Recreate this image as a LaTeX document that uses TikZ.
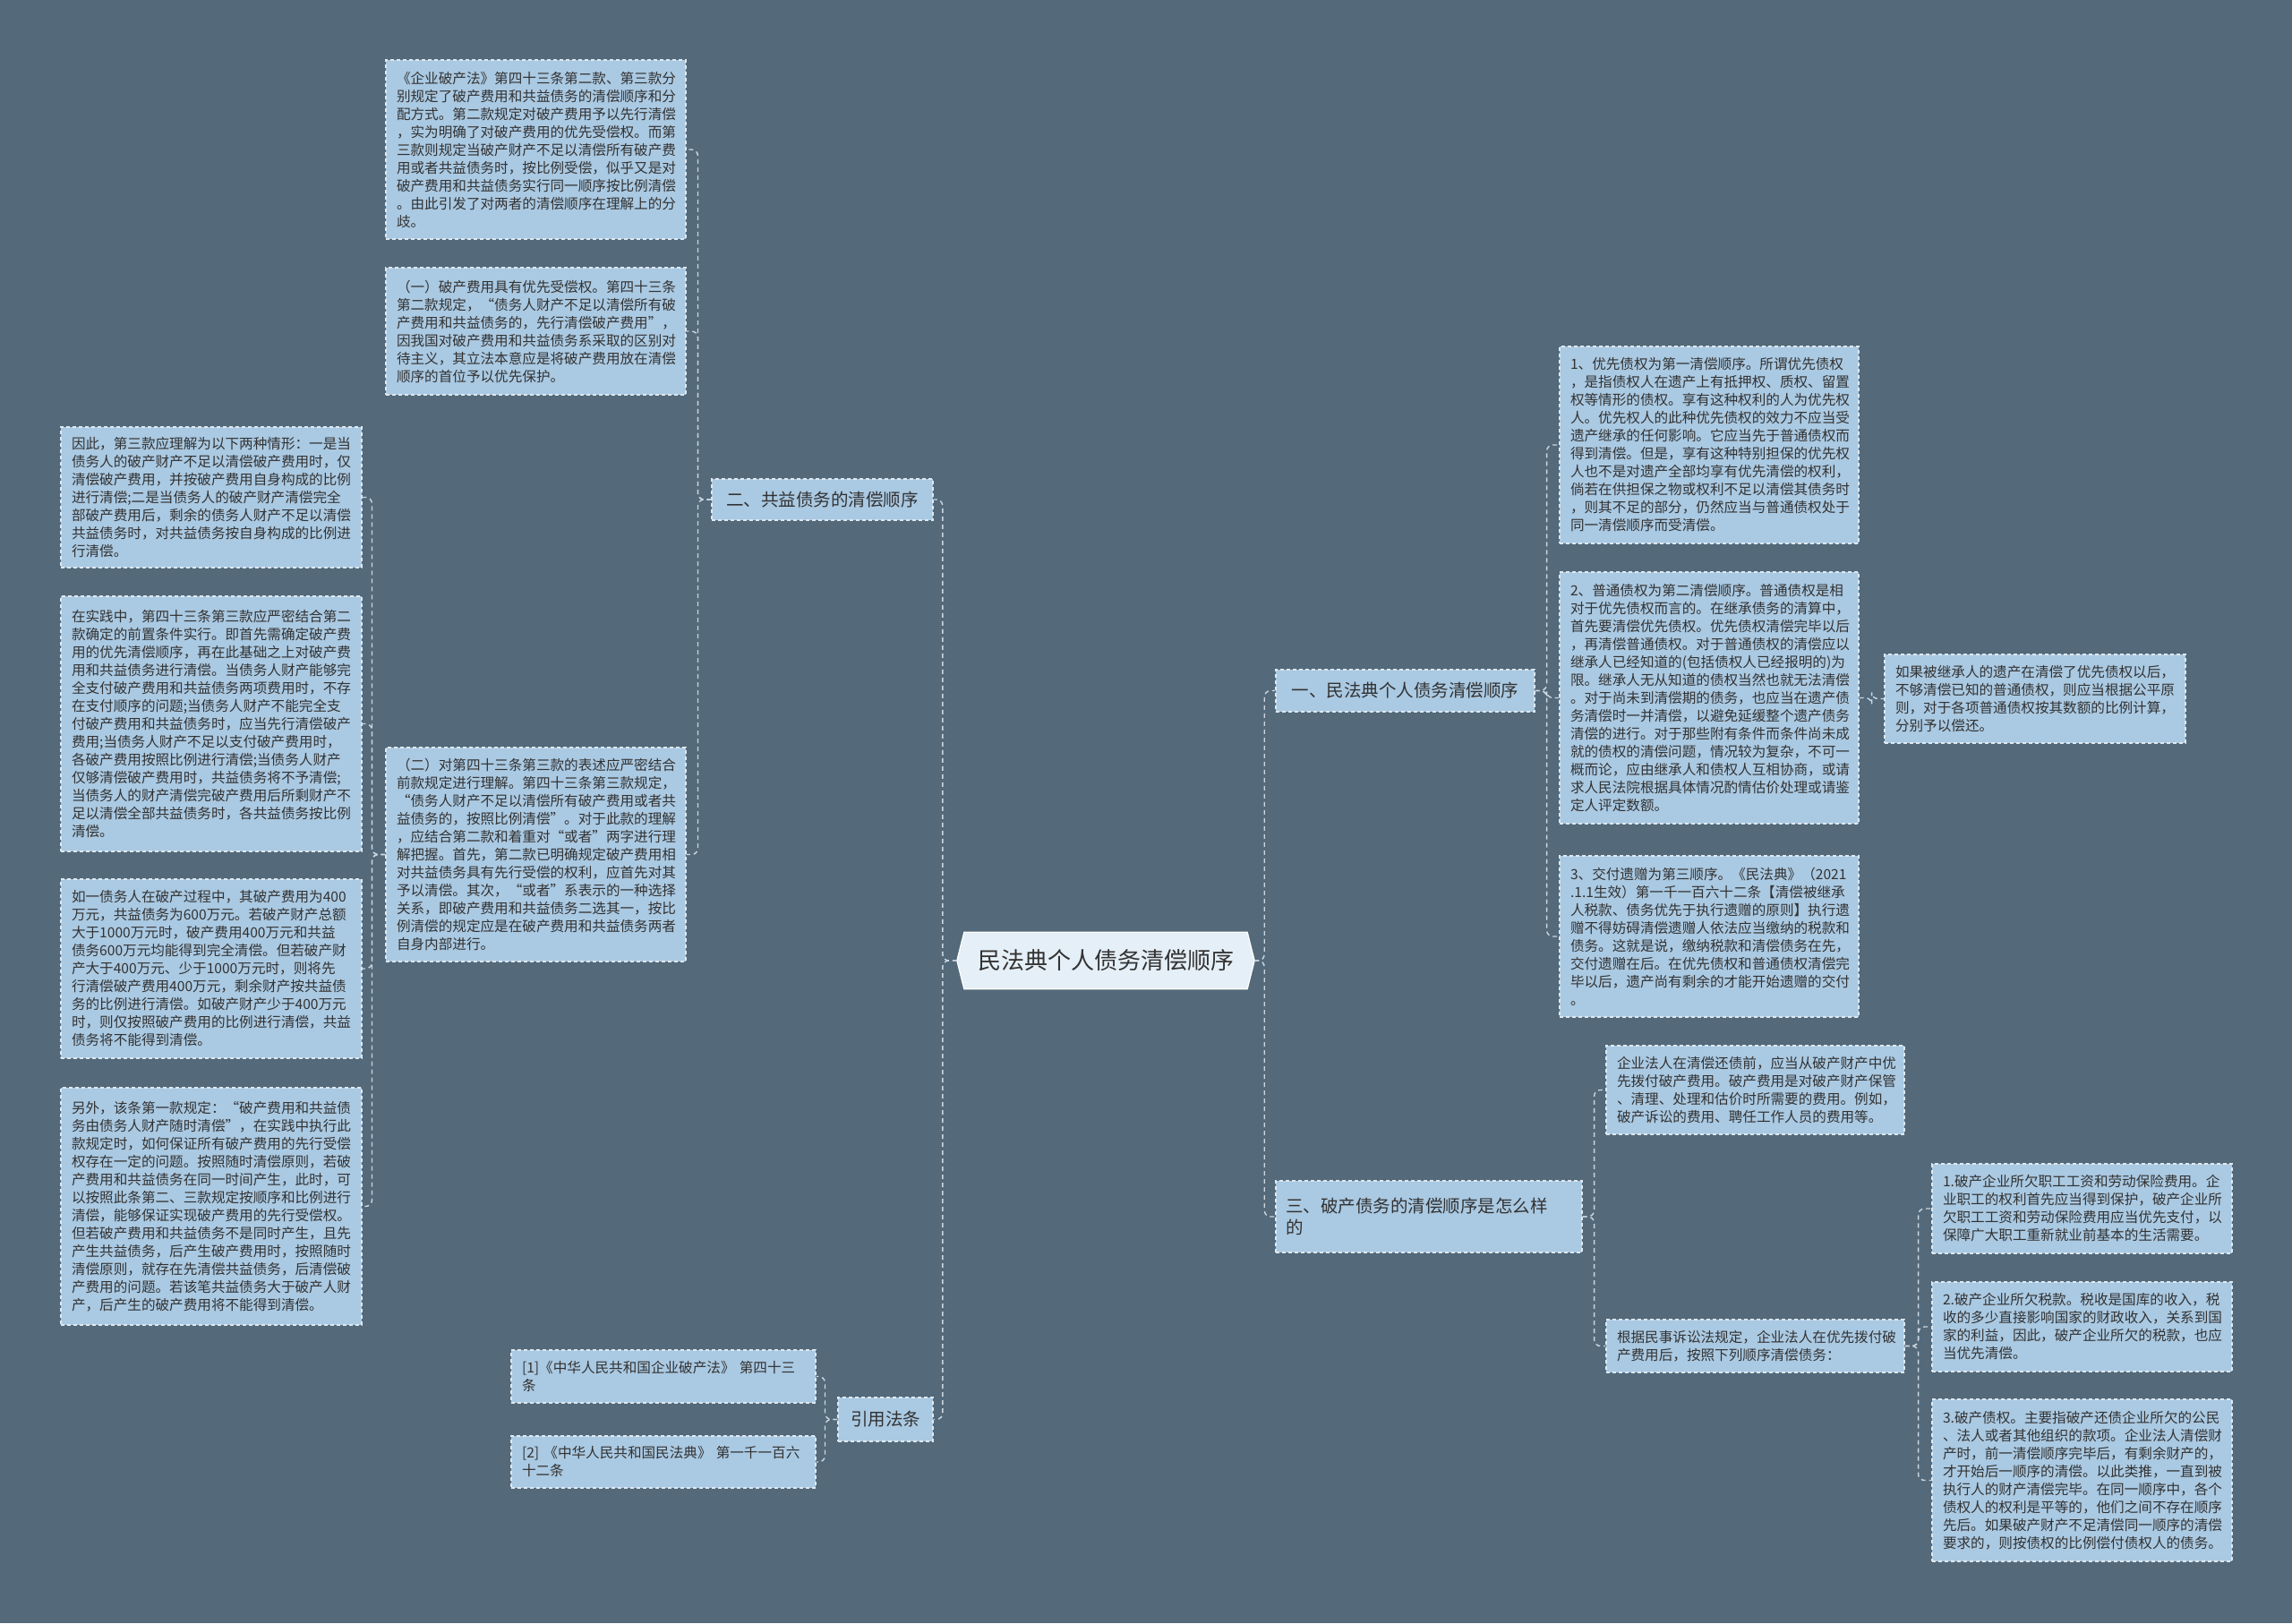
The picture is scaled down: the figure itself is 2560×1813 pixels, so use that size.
\documentclass[tikz,border=0pt]{standalone}
\usepackage{fontspec}
\setmainfont{Noto Sans CJK SC}
\usetikzlibrary{calc}
\definecolor{bgcol}{RGB}{84,106,122}
\definecolor{boxfill}{RGB}{170,201,226}
\definecolor{bordercol}{RGB}{222,232,241}
\definecolor{textcol}{RGB}{50,50,50}
\definecolor{centerfill}{RGB}{229,239,247}
\definecolor{conncol}{RGB}{205,215,225}
\pgfdeclarelayer{back}
\pgfsetlayers{back,main}
\tikzset{
  leaf/.style={draw=bordercol, dash pattern=on 4pt off 3pt, line width=1.1pt, fill=boxfill,
    text=textcol, align=left, inner sep=0pt, font=\fontsize{15.6pt}{20pt}\selectfont},
  lvlone/.style={draw=bordercol, dash pattern=on 4pt off 3pt, line width=1.1pt, fill=boxfill,
    text=textcol, align=left, inner sep=0pt, font=\fontsize{19.5pt}{24pt}\selectfont},
  centernode/.style={text=textcol, inner sep=0pt, minimum width=332pt, minimum height=63pt,
    font=\fontsize{26pt}{30pt}\selectfont},
  conn/.style={draw=conncol, dash pattern=on 5pt off 4pt, line width=1.4pt, rounded corners=7pt}
}
\begin{document}
\begin{tikzpicture}[x=1pt,y=-1pt]
\begin{pgfonlayer}{back}
\fill[bgcol] (0,0) rectangle (2560,1813);
\end{pgfonlayer}
\useasboundingbox (0,0) rectangle (2560,1813);

% center
\node[centernode] (C) at (1235,1073) {民法典个人债务清偿顺序};
\begin{pgfonlayer}{back}
\filldraw[fill=centerfill, draw=white, line width=1.2pt]
  ([xshift=8pt]C.north west) -- (C.west) -- ([xshift=8pt]C.south west)
  -- ([xshift=-8pt]C.south east) -- (C.east) -- ([xshift=-8pt]C.north east) -- cycle;
\end{pgfonlayer}

% level one
\node[lvlone, minimum width=247pt, minimum height=46pt] (N2) at (918.5,558) {二、共益债务的清偿顺序};
\node[lvlone, minimum width=289pt, minimum height=47pt] (N1) at (1569.5,771.5) {一、民法典个人债务清偿顺序};
\node[lvlone, minimum width=342pt, minimum height=80pt, text width=320pt] (N3) at (1596,1359) {三、破产债务的清偿顺序是怎么样\\的};
\node[lvlone, minimum width=106pt, minimum height=49pt] (NR) at (989,1585.5) {引用法条};

% branch 二
\node[leaf, minimum width=335pt, minimum height=200pt, text width=311pt] (A) at (598.5,167) {《企业破产法》第四十三条第二款、第三款分\\别规定了破产费用和共益债务的清偿顺序和分\\配方式。第二款规定对破产费用予以先行清偿\\，实为明确了对破产费用的优先受偿权。而第\\三款则规定当破产财产不足以清偿所有破产费\\用或者共益债务时，按比例受偿，似乎又是对\\破产费用和共益债务实行同一顺序按比例清偿\\。由此引发了对两者的清偿顺序在理解上的分\\歧。};
\node[leaf, minimum width=335pt, minimum height=142pt, text width=311pt] (B) at (598.5,370) {（一）破产费用具有优先受偿权。第四十三条\\第二款规定，“债务人财产不足以清偿所有破\\产费用和共益债务的，先行清偿破产费用”，\\因我国对破产费用和共益债务系采取的区别对\\待主义，其立法本意应是将破产费用放在清偿\\顺序的首位予以优先保护。};
\node[leaf, minimum width=335pt, minimum height=239pt, text width=311pt] (G) at (598.5,954.5) {（二）对第四十三条第三款的表述应严密结合\\前款规定进行理解。第四十三条第三款规定，\\“债务人财产不足以清偿所有破产费用或者共\\益债务的，按照比例清偿”。对于此款的理解\\，应结合第二款和着重对“或者”两字进行理\\解把握。首先，第二款已明确规定破产费用相\\对共益债务具有先行受偿的权利，应首先对其\\予以清偿。其次，“或者”系表示的一种选择\\关系，即破产费用和共益债务二选其一，按比\\例清偿的规定应是在破产费用和共益债务两者\\自身内部进行。};

% children of (二)
\node[leaf, minimum width=336pt, minimum height=157pt, text width=312pt] (LC) at (236,555.5) {因此，第三款应理解为以下两种情形：一是当\\债务人的破产财产不足以清偿破产费用时，仅\\清偿破产费用，并按破产费用自身构成的比例\\进行清偿;二是当债务人的破产财产清偿完全\\部破产费用后，剩余的债务人财产不足以清偿\\共益债务时，对共益债务按自身构成的比例进\\行清偿。};
\node[leaf, minimum width=336pt, minimum height=285pt, text width=312pt] (LD) at (236,808.5) {在实践中，第四十三条第三款应严密结合第二\\款确定的前置条件实行。即首先需确定破产费\\用的优先清偿顺序，再在此基础之上对破产费\\用和共益债务进行清偿。当债务人财产能够完\\全支付破产费用和共益债务两项费用时，不存\\在支付顺序的问题;当债务人财产不能完全支\\付破产费用和共益债务时，应当先行清偿破产\\费用;当债务人财产不足以支付破产费用时，\\各破产费用按照比例进行清偿;当债务人财产\\仅够清偿破产费用时，共益债务将不予清偿;\\当债务人的财产清偿完破产费用后所剩财产不\\足以清偿全部共益债务时，各共益债务按比例\\清偿。};
\node[leaf, minimum width=336pt, minimum height=200pt, text width=312pt] (LE) at (236,1082) {如一债务人在破产过程中，其破产费用为400\\万元，共益债务为600万元。若破产财产总额\\大于1000万元时，破产费用400万元和共益\\债务600万元均能得到完全清偿。但若破产财\\产大于400万元、少于1000万元时，则将先\\行清偿破产费用400万元，剩余财产按共益债\\务的比例进行清偿。如破产财产少于400万元\\时，则仅按照破产费用的比例进行清偿，共益\\债务将不能得到清偿。};
\node[leaf, minimum width=336pt, minimum height=265pt, text width=312pt] (LF) at (236,1347.5) {另外，该条第一款规定：“破产费用和共益债\\务由债务人财产随时清偿”，在实践中执行此\\款规定时，如何保证所有破产费用的先行受偿\\权存在一定的问题。按照随时清偿原则，若破\\产费用和共益债务在同一时间产生，此时，可\\以按照此条第二、三款规定按顺序和比例进行\\清偿，能够保证实现破产费用的先行受偿权。\\但若破产费用和共益债务不是同时产生，且先\\产生共益债务，后产生破产费用时，按照随时\\清偿原则，就存在先清偿共益债务，后清偿破\\产费用的问题。若该笔共益债务大于破产人财\\产，后产生的破产费用将不能得到清偿。};

% branch 一
\node[leaf, minimum width=334pt, minimum height=220pt, text width=310pt] (H) at (1909,497) {1、优先债权为第一清偿顺序。所谓优先债权\\，是指债权人在遗产上有抵押权、质权、留置\\权等情形的债权。享有这种权利的人为优先权\\人。优先权人的此种优先债权的效力不应当受\\遗产继承的任何影响。它应当先于普通债权而\\得到清偿。但是，享有这种特别担保的优先权\\人也不是对遗产全部均享有优先清偿的权利，\\倘若在供担保之物或权利不足以清偿其债务时\\，则其不足的部分，仍然应当与普通债权处于\\同一清偿顺序而受清偿。};
\node[leaf, minimum width=334pt, minimum height=281pt, text width=310pt] (I) at (1909,779.5) {2、普通债权为第二清偿顺序。普通债权是相\\对于优先债权而言的。在继承债务的清算中，\\首先要清偿优先债权。优先债权清偿完毕以后\\，再清偿普通债权。对于普通债权的清偿应以\\继承人已经知道的(包括债权人已经报明的)为\\限。继承人无从知道的债权当然也就无法清偿\\。对于尚未到清偿期的债务，也应当在遗产债\\务清偿时一并清偿，以避免延缓整个遗产债务\\清偿的进行。对于那些附有条件而条件尚未成\\就的债权的清偿问题，情况较为复杂，不可一\\概而论，应由继承人和债权人互相协商，或请\\求人民法院根据具体情况酌情估价处理或请鉴\\定人评定数额。};
\node[leaf, minimum width=334pt, minimum height=180pt, text width=310pt] (J) at (1909,1046) {3、交付遗赠为第三顺序。《民法典》（2021\\.1.1生效）第一千一百六十二条【清偿被继承\\人税款、债务优先于执行遗赠的原则】执行遗\\赠不得妨碍清偿遗赠人依法应当缴纳的税款和\\债务。这就是说，缴纳税款和清偿债务在先，\\交付遗赠在后。在优先债权和普通债权清偿完\\毕以后，遗产尚有剩余的才能开始遗赠的交付\\。};
\node[leaf, minimum width=336pt, minimum height=99pt, text width=312pt] (K) at (2273,780.5) {如果被继承人的遗产在清偿了优先债权以后，\\不够清偿已知的普通债权，则应当根据公平原\\则，对于各项普通债权按其数额的比例计算，\\分别予以偿还。};

% branch 三
\node[leaf, minimum width=333pt, minimum height=99pt, text width=309pt] (L) at (1960.5,1217.5) {企业法人在清偿还债前，应当从破产财产中优\\先拨付破产费用。破产费用是对破产财产保管\\、清理、处理和估价时所需要的费用。例如，\\破产诉讼的费用、聘任工作人员的费用等。};
\node[leaf, minimum width=333pt, minimum height=59pt, text width=309pt] (M) at (1960.5,1503.5) {根据民事诉讼法规定，企业法人在优先拨付破\\产费用后，按照下列顺序清偿债务：};
\node[leaf, minimum width=335pt, minimum height=100pt, text width=311pt] (P1) at (2325.5,1350) {1.破产企业所欠职工工资和劳动保险费用。企\\业职工的权利首先应当得到保护，破产企业所\\欠职工工资和劳动保险费用应当优先支付，以\\保障广大职工重新就业前基本的生活需要。};
\node[leaf, minimum width=335pt, minimum height=100pt, text width=311pt] (P2) at (2325.5,1482) {2.破产企业所欠税款。税收是国库的收入，税\\收的多少直接影响国家的财政收入，关系到国\\家的利益，因此，破产企业所欠的税款，也应\\当优先清偿。};
\node[leaf, minimum width=335pt, minimum height=181pt, text width=311pt] (P3) at (2325.5,1653.5) {3.破产债权。主要指破产还债企业所欠的公民\\、法人或者其他组织的款项。企业法人清偿财\\产时，前一清偿顺序完毕后，有剩余财产的，\\才开始后一顺序的清偿。以此类推，一直到被\\执行人的财产清偿完毕。在同一顺序中，各个\\债权人的权利是平等的，他们之间不存在顺序\\先后。如果破产财产不足清偿同一顺序的清偿\\要求的，则按债权的比例偿付债权人的债务。};

% references
\node[leaf, minimum width=340pt, minimum height=59pt, text width=316pt] (R1) at (741,1537.5) {[1]《中华人民共和国企业破产法》 第四十三\\条};
\node[leaf, minimum width=340pt, minimum height=58pt, text width=316pt] (R2) at (741,1633) {[2] 《中华人民共和国民法典》 第一千一百六\\十二条};

% connectors
\draw[conn] (C.west) -- ++(-16,0) |- (N2.east);
\draw[conn] (C.west) -- ++(-16,0) |- (NR.east);
\draw[conn] (C.east) -- ++(11,0) |- (N1.west);
\draw[conn] (C.east) -- ++(11,0) |- (N3.west);

\draw[conn] (N2.west) -- ++(-15,0) |- (A.east);
\draw[conn] (N2.west) -- ++(-15,0) |- (B.east);
\draw[conn] (N2.west) -- ++(-15,0) |- (G.east);

\draw[conn] (G.west) -- ++(-15,0) |- (LC.east);
\draw[conn] (G.west) -- ++(-15,0) |- (LD.east);
\draw[conn] (G.west) -- ++(-15,0) |- (LE.east);
\draw[conn] (G.west) -- ++(-15,0) |- (LF.east);

\draw[conn] (N1.east) -- ++(13,0) |- (H.west);
\draw[conn] (N1.east) -- ++(13,0) |- (I.west);
\draw[conn] (N1.east) -- ++(13,0) |- (J.west);
\draw[conn] (I.east) -- ++(14,0) |- (K.west);

\draw[conn] (N3.east) -- ++(13,0) |- (L.west);
\draw[conn] (N3.east) -- ++(13,0) |- (M.west);

\draw[conn] (M.east) -- ++(15,0) |- (P1.west);
\draw[conn] (M.east) -- ++(15,0) |- (P2.west);
\draw[conn] (M.east) -- ++(15,0) |- (P3.west);

\draw[conn] (NR.west) -- ++(-14,0) |- (R1.east);
\draw[conn] (NR.west) -- ++(-14,0) |- (R2.east);
\end{tikzpicture}
\end{document}
